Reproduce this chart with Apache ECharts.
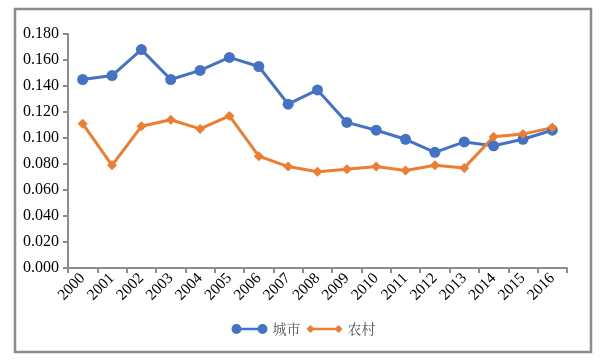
<!DOCTYPE html>
<html>
<head>
<meta charset="utf-8">
<script src="https://cdn.jsdelivr.net/npm/echarts@6/dist/echarts.min.js"></script>
<style>html,body{margin:0;padding:0;background:#fff}#c{width:607px;height:361px}</style>
</head>
<body>
<div id="c"></div>
<script>
var years = ['2000','2001','2002','2003','2004','2005','2006','2007','2008','2009','2010','2011','2012','2013','2014','2015','2016'];
var cityName = '城市';
var ruralName = '农村';
var city = [0.145,0.148,0.168,0.145,0.152,0.162,0.155,0.126,0.137,0.112,0.106,0.099,0.089,0.097,0.094,0.099,0.106];
var rural = [0.111,0.079,0.109,0.114,0.107,0.117,0.086,0.078,0.074,0.076,0.078,0.075,0.079,0.077,0.101,0.103,0.108];
var yTicks = {min:0, max:0.18, interval:0.02};

var chart = echarts.init(document.getElementById('c'), null, {renderer:'canvas'});
var serif = '"Liberation Serif","DejaVu Serif",serif';
chart.setOption({
  animation:false,
  grid:{left:68, right:40, top:34, bottom:93},
  graphic:[{type:'rect', shape:{x:15,y:9,width:576,height:343}, style:{fill:'none', stroke:'#8c8c8c', lineWidth:2.5}, silent:true}],
  legend:{
    bottom:20, left:'center', itemGap:6, itemWidth:36, itemHeight:11,
    textStyle:{fontFamily:'"Noto Serif CJK SC","Noto Sans CJK SC",serif', fontSize:14, color:'#595959'},
    data:[
      {name:cityName, icon:'path://M5,4.2 L31,4.2 L31,6.8 L5,6.8 Z M0,5.5 A5,5 0 1,1 10,5.5 A5,5 0 1,1 0,5.5 Z M26,5.5 A5,5 0 1,1 36,5.5 A5,5 0 1,1 26,5.5 Z'},
      {name:ruralName, icon:'path://M4,4.2 L32,4.2 L32,6.8 L4,6.8 Z M0,5.5 L4,1.5 L8,5.5 L4,9.5 Z M28,5.5 L32,1.5 L36,5.5 L32,9.5 Z'}
    ]
  },
  xAxis:{
    type:'category', data:years, boundaryGap:true,
    axisLine:{lineStyle:{color:'#8c8c8c', width:2}},
    axisTick:{show:true, length:5, alignWithLabel:false, lineStyle:{color:'#8c8c8c', width:2}},
    axisLabel:{rotate:45, fontFamily:serif, fontSize:15.5, color:'#000', margin:8, interval:0}
  },
  yAxis:{
    type:'value', min:yTicks.min, max:yTicks.max, interval:yTicks.interval,
    splitLine:{show:false},
    axisLine:{show:true, lineStyle:{color:'#8c8c8c', width:2}},
    axisTick:{show:true, length:5, lineStyle:{color:'#8c8c8c', width:2}},
    axisLabel:{fontFamily:serif, fontSize:16, color:'#000', margin:9, formatter:function(v){return v.toFixed(3);}}
  },
  series:[
    {name:cityName, type:'line', data:city, symbol:'circle', symbolSize:11,
     lineStyle:{color:'#4472C4', width:3}, itemStyle:{color:'#4472C4'}},
    {name:ruralName, type:'line', data:rural, symbol:'diamond', symbolSize:10,
     lineStyle:{color:'#ED7D31', width:3}, itemStyle:{color:'#ED7D31'}}
  ]
});
</script>
</body>
</html>
